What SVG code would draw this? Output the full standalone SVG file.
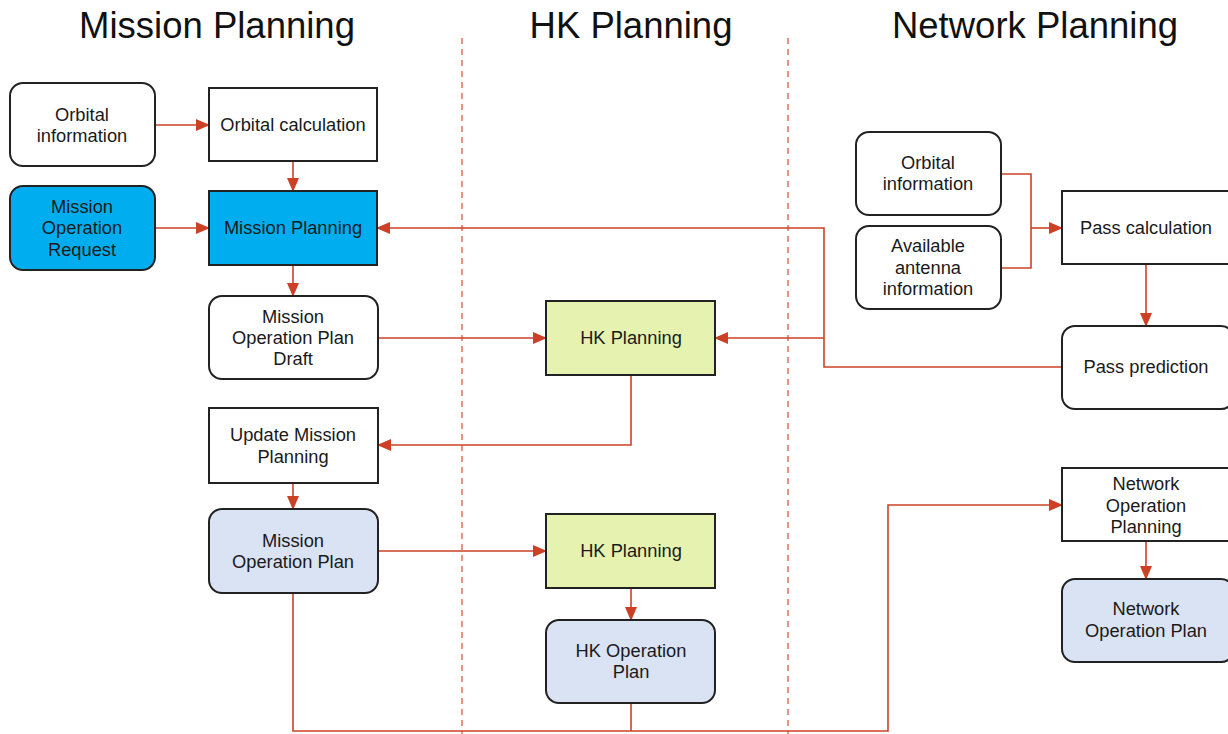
<svg xmlns="http://www.w3.org/2000/svg" width="1228" height="734" viewBox="0 0 1228 734">
<defs>
<marker id="arr" markerWidth="14" markerHeight="12" refX="13" refY="6" orient="auto" markerUnits="userSpaceOnUse">
<path d="M0,0 L14,6 L0,12 Z" fill="#cc4125"/>
</marker>
<style>
.box{stroke:#222;stroke-width:2}
.w{fill:#fff}
.b{fill:#00aeef}
.g{fill:#e6f2b0}
.l{fill:#dae3f3}
.t{font-family:"Liberation Sans",Arial,sans-serif;font-size:18.3px;fill:#1a1a1a;text-anchor:middle}
.h{font-family:"Liberation Sans",Arial,sans-serif;font-size:36.5px;fill:#111;text-anchor:middle}
.c{fill:none;stroke:#cc4125;stroke-width:1.6}
.d{stroke:#e07b66;stroke-width:1.6;stroke-dasharray:6,5}
</style>
</defs>
<rect width="1228" height="734" fill="#fff"/>
<g id="titles">
<text class="h" x="217" y="38">Mission Planning</text>
<text class="h" x="631" y="38">HK Planning</text>
<text class="h" x="1035" y="38">Network Planning</text>
</g>
<g id="lanes">
<line class="d" x1="462" y1="38" x2="462" y2="734"/>
<line class="d" x1="788" y1="38" x2="788" y2="734"/>
</g>
<g id="connectors">
<path class="c" d="M155,125 H209" marker-end="url(#arr)"/>
<path class="c" d="M293,161 V191" marker-end="url(#arr)"/>
<path class="c" d="M155,228 H209" marker-end="url(#arr)"/>
<path class="c" d="M1062,367 H824 V228 H377" marker-end="url(#arr)"/>
<path class="c" d="M824,338 H715" marker-end="url(#arr)"/>
<path class="c" d="M293,265 V296" marker-end="url(#arr)"/>
<path class="c" d="M378,338 H546" marker-end="url(#arr)"/>
<path class="c" d="M631,375 V445 H378" marker-end="url(#arr)"/>
<path class="c" d="M293,483 V509" marker-end="url(#arr)"/>
<path class="c" d="M378,551 H546" marker-end="url(#arr)"/>
<path class="c" d="M631,588 V620" marker-end="url(#arr)"/>
<path class="c" d="M293,593 V731 H888 V505 H1062" marker-end="url(#arr)"/>
<path class="c" d="M631,703 V731"/>
<path class="c" d="M1001,174 H1031 V268 H1001"/>
<path class="c" d="M1031,228 H1062" marker-end="url(#arr)"/>
<path class="c" d="M1146,264 V326" marker-end="url(#arr)"/>
<path class="c" d="M1146,541 V579" marker-end="url(#arr)"/>
</g>
<g id="orbital-info-left">
<rect class="box w" x="10" y="83" width="145" height="83" rx="13"/>
<text class="t" x="82" y="121">Orbital</text>
<text class="t" x="82" y="142">information</text>
</g>
<g id="orbital-calc">
<rect class="box w" x="209" y="88" width="168" height="73"/>
<text class="t" x="293" y="131">Orbital calculation</text>
</g>
<g id="mission-op-request">
<rect class="box b" x="10" y="186" width="145" height="84" rx="13"/>
<text class="t" x="82" y="213">Mission</text>
<text class="t" x="82" y="234">Operation</text>
<text class="t" x="82" y="256">Request</text>
</g>
<g id="mission-planning">
<rect class="box b" x="209" y="191" width="168" height="74"/>
<text class="t" x="293" y="234">Mission Planning</text>
</g>
<g id="mop-draft">
<rect class="box w" x="209" y="296" width="169" height="83" rx="13"/>
<text class="t" x="293" y="323">Mission</text>
<text class="t" x="293" y="344">Operation Plan</text>
<text class="t" x="293" y="365">Draft</text>
</g>
<g id="hk-planning-1">
<rect class="box g" x="546" y="301" width="169" height="74"/>
<text class="t" x="631" y="344">HK Planning</text>
</g>
<g id="update-mission-planning">
<rect class="box w" x="209" y="408" width="169" height="75"/>
<text class="t" x="293" y="441">Update Mission</text>
<text class="t" x="293" y="463">Planning</text>
</g>
<g id="mission-op-plan">
<rect class="box l" x="209" y="509" width="169" height="84" rx="13"/>
<text class="t" x="293" y="547">Mission</text>
<text class="t" x="293" y="568">Operation Plan</text>
</g>
<g id="hk-planning-2">
<rect class="box g" x="546" y="514" width="169" height="74"/>
<text class="t" x="631" y="557">HK Planning</text>
</g>
<g id="hk-op-plan">
<rect class="box l" x="546" y="620" width="169" height="83" rx="13"/>
<text class="t" x="631" y="657">HK Operation</text>
<text class="t" x="631" y="678">Plan</text>
</g>
<g id="orbital-info-right">
<rect class="box w" x="856" y="132" width="145" height="83" rx="13"/>
<text class="t" x="928" y="169">Orbital</text>
<text class="t" x="928" y="190">information</text>
</g>
<g id="antenna-info">
<rect class="box w" x="856" y="226" width="145" height="83" rx="13"/>
<text class="t" x="928" y="252">Available</text>
<text class="t" x="928" y="274">antenna</text>
<text class="t" x="928" y="295">information</text>
</g>
<g id="pass-calc">
<rect class="box w" x="1062" y="191" width="172" height="73"/>
<text class="t" x="1146" y="234">Pass calculation</text>
</g>
<g id="pass-prediction">
<rect class="box w" x="1062" y="326" width="172" height="83" rx="13"/>
<text class="t" x="1146" y="373">Pass prediction</text>
</g>
<g id="network-op-planning">
<rect class="box w" x="1062" y="468" width="172" height="73"/>
<text class="t" x="1146" y="490">Network</text>
<text class="t" x="1146" y="512">Operation</text>
<text class="t" x="1146" y="533">Planning</text>
</g>
<g id="network-op-plan">
<rect class="box l" x="1062" y="579" width="172" height="83" rx="13"/>
<text class="t" x="1146" y="615">Network</text>
<text class="t" x="1146" y="637">Operation Plan</text>
</g>
</svg>
